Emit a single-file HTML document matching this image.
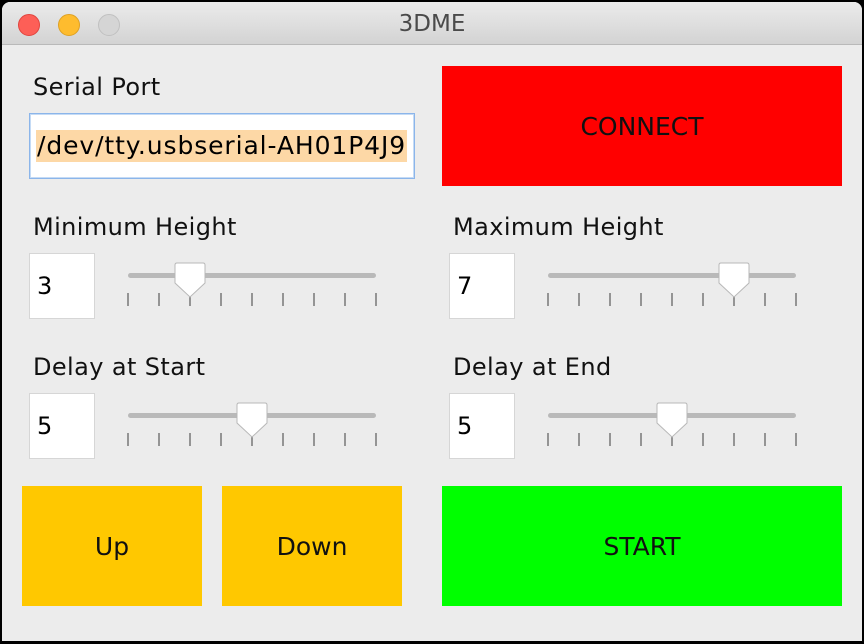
<!DOCTYPE html>
<html><head><style>
body{margin:0;width:864px;height:644px;background:#000;overflow:hidden;font-family:"DejaVu Sans","Liberation Sans",sans-serif;}
.win{position:absolute;left:2px;top:2px;width:860px;height:639px;background:#ececec;border-radius:8px 8px 0 0;overflow:hidden}
.title{position:absolute;left:0;top:0;width:860px;height:42px;background:linear-gradient(#ebebeb,#d3d3d3);border-bottom:1px solid #b9b9b9;text-align:center;line-height:44px;font-size:23px;color:#4a4a4a}
.dot{position:absolute;top:12px;width:22px;height:22px;border-radius:50%;box-sizing:border-box}
.abs{position:absolute}
.lbl{position:absolute;font-size:24px;color:#111;letter-spacing:0.4px}
.fld{position:absolute;width:66px;height:66px;background:#fff;border:1px solid #d6d6d6;box-sizing:border-box;font-size:24px;line-height:64px;padding-left:7px;color:#000}
.btn{position:absolute;display:flex;align-items:center;justify-content:center;font-size:25px;color:#111}
</style></head><body>
<div class="win">
<div class="title">3DME</div>
<div class="dot" style="left:16px;background:#fd5f57;border:1px solid #e0443e"></div>
<div class="dot" style="left:56px;background:#febc2e;border:1px solid #dea123"></div>
<div class="dot" style="left:96px;background:#d5d5d5;border:1px solid #c0c0c0"></div>
</div>
<div class="lbl" style="left:33px;top:73px">Serial Port</div>
<div class="abs" style="left:29px;top:113px;width:386px;height:66px;background:#fff;border:1px solid #8bb5ea;box-sizing:border-box;box-shadow:inset 0 0 0 1px #c5dbf5"></div>
<div class="abs" style="left:36px;top:130px;width:370px;height:32px;background:#fdd8a6;font-size:25px;line-height:32px;padding-left:1px;letter-spacing:0.9px;color:#000;white-space:nowrap;overflow:hidden">/dev/tty.usbserial-AH01P4J9</div>
<div class="btn" style="left:442px;top:66px;width:400px;height:120px;background:#ff0000">CONNECT</div>
<div class="lbl" style="left:33px;top:213px">Minimum Height</div>
<div class="lbl" style="left:453px;top:213px">Maximum Height</div>
<div class="lbl" style="left:33px;top:353px">Delay at Start</div>
<div class="lbl" style="left:453px;top:353px">Delay at End</div>
<div class="fld" style="left:29px;top:253px">3</div>
<div class="fld" style="left:449px;top:253px">7</div>
<div class="fld" style="left:29px;top:393px">5</div>
<div class="fld" style="left:449px;top:393px">5</div>
<svg class="abs" style="left:0;top:0" width="864" height="644">
<defs>
<g id="sl">
<rect x="0" y="-3" width="248" height="5" rx="2.5" fill="#b9b9b9"/>
<g stroke="#777" stroke-width="1.5">
<line x1="0" y1="17" x2="0" y2="30"/><line x1="31" y1="17" x2="31" y2="30"/><line x1="62" y1="17" x2="62" y2="30"/><line x1="93" y1="17" x2="93" y2="30"/><line x1="124" y1="17" x2="124" y2="30"/><line x1="155" y1="17" x2="155" y2="30"/><line x1="186" y1="17" x2="186" y2="30"/><line x1="217" y1="17" x2="217" y2="30"/><line x1="248" y1="17" x2="248" y2="30"/>
</g>
</g>
<path id="th" d="M-13,-13 Q-15,-13 -15,-11 L-15,7 L0,21 L15,7 L15,-11 Q15,-13 13,-13 Z" fill="#fff" stroke="#b8b8b8" stroke-width="1"/>
</defs>
<use href="#sl" x="128" y="276"/><use href="#th" x="190" y="276"/>
<use href="#sl" x="548" y="276"/><use href="#th" x="734" y="276"/>
<use href="#sl" x="128" y="416"/><use href="#th" x="252" y="416"/>
<use href="#sl" x="548" y="416"/><use href="#th" x="672" y="416"/>
</svg>
<div class="btn" style="left:22px;top:486px;width:180px;height:120px;background:#ffc800">Up</div>
<div class="btn" style="left:222px;top:486px;width:180px;height:120px;background:#ffc800">Down</div>
<div class="btn" style="left:442px;top:486px;width:400px;height:120px;background:#00ff00">START</div>
</body></html>
